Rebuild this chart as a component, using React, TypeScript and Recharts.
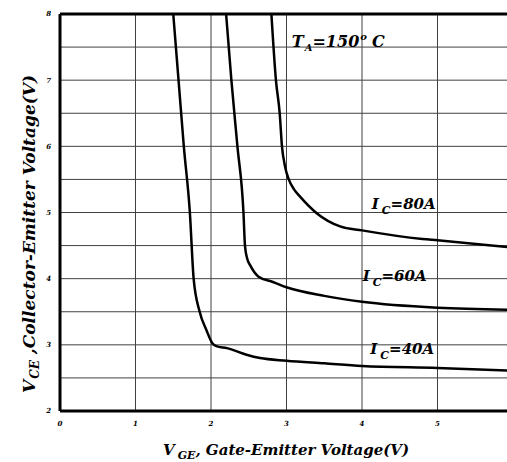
import React from 'react';
import { LineChart, Line, XAxis, YAxis, CartesianGrid, ReferenceLine, ReferenceDot } from 'recharts';

const serif = "'DejaVu Serif', serif";

// V_GE (x) and V_CE (y), per collector current
const ic40Vge = [1.5, 1.57, 1.64, 1.72, 1.77, 1.85, 1.94, 2.02, 2.07, 2.21, 2.47, 2.65, 3.0, 3.5, 4.0, 5.0, 6.0];
const ic40Vce = [8, 7, 6, 5, 4, 3.5, 3.22, 3.02, 2.98, 2.95, 2.85, 2.8, 2.76, 2.72, 2.68, 2.65, 2.61];

const ic60Vge = [2.2, 2.27, 2.35, 2.43, 2.45, 2.48, 2.52, 2.63, 2.82, 3.0, 3.5, 4.0, 5.0, 6.0];
const ic60Vce = [8, 7, 6, 5, 4.5, 4.3, 4.2, 4.03, 3.95, 3.87, 3.74, 3.65, 3.56, 3.53];

const ic80Vge = [2.8, 2.86, 2.91, 2.94, 2.98, 3.03, 3.1, 3.18, 3.4, 3.71, 4.0, 4.8, 5.0, 6.0];
const ic80Vce = [8, 7, 6.5, 6, 5.7, 5.5, 5.35, 5.24, 4.99, 4.79, 4.73, 4.6, 4.58, 4.47];

const xTicks = [0, 1, 2, 3, 4, 5];
const yTicks = [2, 2.5, 3, 3.5, 4, 4.5, 5, 5.5, 6, 6.5, 7, 7.5, 8];

const toPoints = (xs: number[], ys: number[]) => xs.map((x, i) => ({ x, y: ys[i] }));

const curves = [
  { name: 'IC=40A', data: toPoints(ic40Vge, ic40Vce) },
  { name: 'IC=60A', data: toPoints(ic60Vge, ic60Vce) },
  { name: 'IC=80A', data: toPoints(ic80Vge, ic80Vce) },
];

const currentLabels = [
  { x: 4.13, y: 5.05, value: '80A' },
  { x: 4.01, y: 3.97, value: '60A' },
  { x: 4.11, y: 2.86, value: '40A' },
];

const txt = { fontFamily: serif, fontWeight: 'bold', fontStyle: 'italic', fill: '#000' };

const CurrentText = (props: any) => {
  const { viewBox, value } = props;
  return (
    <text x={viewBox.x} y={viewBox.y} fontSize={15} {...txt}>
      I
      <tspan dx={3} dy={5} fontSize={11}>C</tspan>
      <tspan dy={-5}>{'=' + value}</tspan>
    </text>
  );
};

const TempText = (props: any) => {
  const { viewBox } = props;
  return (
    <text x={viewBox.x} y={viewBox.y} fontSize={16} {...txt}>
      T
      <tspan dx={1} dy={4} fontSize={10}>A</tspan>
      <tspan dy={-4}>=150</tspan>
      <tspan dx={1} dy={-7} fontSize={10}>o</tspan>
      <tspan dx={5} dy={7}>C</tspan>
    </text>
  );
};

const XTitle = () => (
  <text x={163} y={455} fontSize={15} {...txt}>
    V
    <tspan dx={3} dy={4} fontSize={11}>GE</tspan>
    <tspan dy={-4}>, Gate-Emitter Voltage(V)</tspan>
  </text>
);

const YTitle = () => (
  <text x={0} y={0} fontSize={17} {...txt} transform="translate(35,393) rotate(-90)">
    V
    <tspan dx={1} dy={4} fontSize={12}>CE</tspan>
    <tspan dy={-4}> ,Collector-Emitter Voltage(V)</tspan>
  </text>
);

const tickStyle = { fontFamily: serif, fontWeight: 'bold', fontStyle: 'italic', fontSize: 7, fill: '#000' };

export default function App() {
  return (
    <div style={{ position: 'absolute', left: 0, top: 0, width: 507, height: 462, overflow: 'hidden', background: '#fff' }}>
      <LineChart width={540} height={462} margin={{ top: 14, right: 27, bottom: 0, left: 0 }}>
        <CartesianGrid stroke="#404040" strokeWidth={1} />
        <XAxis
          type="number"
          dataKey="x"
          domain={[0, 6]}
          ticks={xTicks}
          height={51}
          tickSize={0}
          tickMargin={10}
          tick={tickStyle}
          axisLine={{ stroke: '#000', strokeWidth: 3 }}
          allowDataOverflow
          label={<XTitle />}
        />
        <YAxis
          type="number"
          dataKey="y"
          domain={[2, 8]}
          ticks={yTicks}
          width={60}
          tickSize={0}
          tickMargin={9}
          tick={tickStyle}
          tickFormatter={(v: number) => (Number.isInteger(v) ? String(v) : '')}
          axisLine={{ stroke: '#000', strokeWidth: 3 }}
          allowDataOverflow
          label={<YTitle />}
        />
        <ReferenceLine y={8} stroke="#000" strokeWidth={3} />
        {curves.map((c) => (
          <Line
            key={c.name}
            data={c.data}
            dataKey="y"
            type="monotone"
            stroke="#000"
            strokeWidth={2.5}
            dot={false}
            isAnimationActive={false}
          />
        ))}
        <ReferenceDot x={3.07} y={7.5} r={0} stroke="none" fill="none" label={<TempText />} />
        {currentLabels.map((l) => (
          <ReferenceDot key={l.value} x={l.x} y={l.y} r={0} stroke="none" fill="none" label={<CurrentText value={l.value} />} />
        ))}
      </LineChart>
    </div>
  );
}
